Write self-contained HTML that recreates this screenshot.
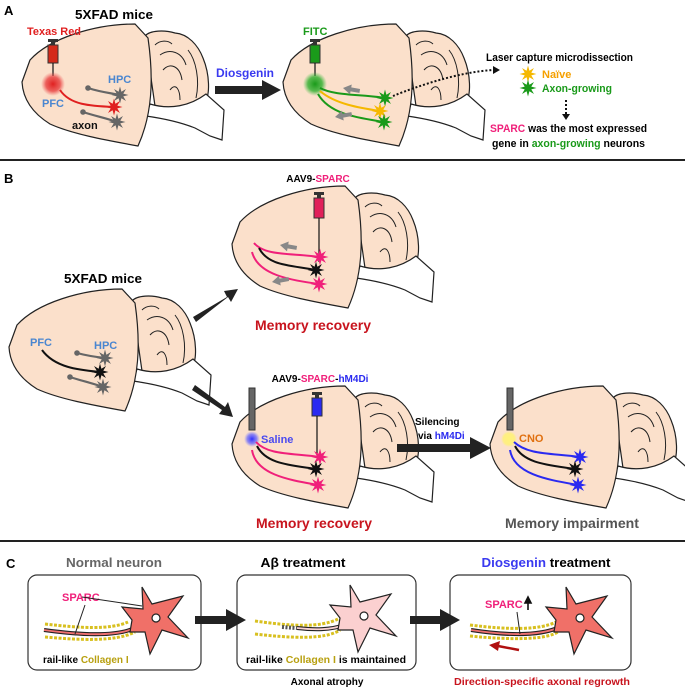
<!DOCTYPE html>
<html><head><meta charset="utf-8"><style>
html,body{margin:0;padding:0;background:#fff}
svg{display:block}
text{font-family:"Liberation Sans",sans-serif;font-weight:bold}
</style></head><body>
<svg width="685" height="688" viewBox="0 0 685 688" xmlns="http://www.w3.org/2000/svg">
<defs>
<g id="brain">
  <path d="M145,36 C150,30 165,30 175,33 C188,34 198,45 203,58 C210,75 210,95 205,102 C195,110 175,112 155,106 Z" fill="#fbe0cb" stroke="#222" stroke-width="1.2"/>
  <path d="M150,104 C170,110 190,106 206,94 L224,110 L222,140 L210,136 L195,128 C180,122 160,118 146,116 Z" fill="#fff" stroke="#222" stroke-width="1.2"/>
  <path d="M160,55 C170,48 182,52 186,65 M163,70 C170,62 180,66 182,80 M188,50 C196,60 200,80 196,98 M155,45 C160,40 168,40 172,44 M170,90 C176,82 180,90 180,100" fill="none" stroke="#222" stroke-width="1"/>
  <path d="M22,82 L30,60 C50,38 95,24 135,24 L148,38 C154,80 152,115 138,146 C105,140 72,134 50,124 C34,114 23,100 22,82 Z" fill="#fbe0cb" stroke="#222" stroke-width="1.2"/>
</g>
<polygon id="star" points="8.5,0 3.3,1.4 6,6 1.4,3.3 0,8.5 -1.4,3.3 -6,6 -3.3,1.4 -8.5,0 -3.3,-1.4 -6,-6 -1.4,-3.3 0,-8.5 1.4,-3.3 6,-6 3.3,-1.4"/>
<g id="garrow"><path d="M0,0 L8,-5 L8,-2 L17,-2 L17,2 L8,2 L8,5 Z" fill="#888"/></g>
<g id="neuron">
  <polygon points="-12,-31 -2,-14 29,-22 14,-1 34,20 8,12 -4,36 -9,14 -24,14 -22,2 -32,-11 -11,-9" stroke="#222" stroke-width="1.2"/>
  <circle cx="2" cy="0" r="4" fill="#fff" stroke="#222" stroke-width="1.2"/>
</g>
<radialGradient id="gr"><stop offset="0" stop-color="#e02020"/><stop offset="0.6" stop-color="#e84040" stop-opacity="0.8"/><stop offset="1" stop-color="#f06060" stop-opacity="0"/></radialGradient>
<radialGradient id="gg"><stop offset="0" stop-color="#1a9a1a"/><stop offset="0.6" stop-color="#30b030" stop-opacity="0.8"/><stop offset="1" stop-color="#50c050" stop-opacity="0"/></radialGradient>
<radialGradient id="gb"><stop offset="0" stop-color="#3030ff"/><stop offset="0.6" stop-color="#6060ff" stop-opacity="0.7"/><stop offset="1" stop-color="#8080ff" stop-opacity="0"/></radialGradient>
<radialGradient id="gy"><stop offset="0" stop-color="#fff27a"/><stop offset="0.7" stop-color="#fff07a" stop-opacity="0.9"/><stop offset="1" stop-color="#fff07a" stop-opacity="0"/></radialGradient>
</defs>

<!-- PANEL A -->
<text x="4" y="15" font-size="13">A</text>
<text x="75" y="19" font-size="13" textLength="78" lengthAdjust="spacingAndGlyphs">5XFAD mice</text>
<use href="#brain"/>
<text x="27" y="35" font-size="11" fill="#e02020" textLength="54" lengthAdjust="spacingAndGlyphs">Texas Red</text>
<rect x="48" y="39" width="10" height="3" fill="#333"/><rect x="51" y="42" width="4" height="3" fill="#333"/>
<rect x="48" y="45" width="10" height="18" fill="#d42a1a" stroke="#333"/>
<line x1="53" y1="63" x2="53" y2="76" stroke="#111" stroke-width="1.2"/>
<circle cx="53" cy="84" r="12" fill="url(#gr)"/>
<text x="42" y="107" font-size="11" fill="#4a86d0" font-weight="normal">PFC</text>
<text x="108" y="83" font-size="11" fill="#4a86d0" font-weight="normal">HPC</text>
<text x="72" y="129" font-size="11" fill="#111" font-weight="normal">axon</text>
<path d="M88,88 C100,92 110,93 120,95" fill="none" stroke="#666" stroke-width="2.2"/><circle cx="88" cy="88" r="2.8" fill="#666"/>
<path d="M83,112 C95,116 106,118 117,122" fill="none" stroke="#666" stroke-width="2.2"/><circle cx="83" cy="112" r="2.8" fill="#666"/>
<path d="M60,90 C70,105 90,106 114,107" fill="none" stroke="#e02020" stroke-width="2"/>
<use href="#star" x="120" y="95" fill="#666"/><use href="#star" x="117" y="122" fill="#666"/><use href="#star" x="114" y="107" fill="#e02020"/>

<text x="216" y="77" font-size="12" fill="#3a3af0" textLength="58" lengthAdjust="spacingAndGlyphs">Diosgenin</text>
<path d="M215,86 L262,86 L262,80 L281,90 L262,100 L262,94 L215,94 Z" fill="#222"/>

<use href="#brain" transform="translate(261,0)"/>
<text x="303" y="35" font-size="11" fill="#1a9a1a">FITC</text>
<rect x="310" y="39" width="10" height="3" fill="#333"/><rect x="313" y="42" width="4" height="3" fill="#333"/>
<rect x="310" y="45" width="10" height="18" fill="#1a9a1a" stroke="#333"/>
<line x1="315" y1="63" x2="315" y2="76" stroke="#111" stroke-width="1.2"/>
<circle cx="315" cy="84" r="12" fill="url(#gg)"/>
<path d="M320,88 C335,96 360,94 385,98" fill="none" stroke="#1a9a1a" stroke-width="2"/>
<path d="M320,91 C335,104 360,108 380,111" fill="none" stroke="#f5b800" stroke-width="2"/>
<path d="M318,94 C330,115 360,118 384,122" fill="none" stroke="#1a9a1a" stroke-width="2"/>
<use href="#garrow" transform="translate(343,88) rotate(10)"/>
<use href="#garrow" transform="translate(335,117) rotate(-10)"/>
<use href="#star" x="385" y="98" fill="#1a9a1a"/><use href="#star" x="380" y="111" fill="#f5b800"/><use href="#star" x="384" y="122" fill="#1a9a1a"/>
<path d="M393,96 C420,85 460,72 493,70" fill="none" stroke="#111" stroke-width="2" stroke-dasharray="2,2"/>
<path d="M493,66 L500,70 L493,74 Z" fill="#111"/>
<text x="486" y="61" font-size="11" textLength="147" lengthAdjust="spacingAndGlyphs">Laser capture microdissection</text>
<use href="#star" x="528" y="74" fill="#f5b800"/><text x="542" y="78" font-size="11" fill="#f5a000">Naïve</text>
<use href="#star" x="528" y="88" fill="#1a9a1a"/><text x="542" y="92" font-size="11" fill="#1a9a1a" textLength="70" lengthAdjust="spacingAndGlyphs">Axon-growing</text>
<line x1="566" y1="100" x2="566" y2="114" stroke="#111" stroke-width="2" stroke-dasharray="2,2"/>
<path d="M562,114 L570,114 L566,120 Z" fill="#111"/>
<text x="490" y="132" font-size="11" textLength="157" lengthAdjust="spacingAndGlyphs"><tspan fill="#f0207a">SPARC</tspan> was the most expressed</text>
<text x="492" y="147" font-size="11" textLength="153" lengthAdjust="spacingAndGlyphs">gene in <tspan fill="#1a9a1a">axon-growing</tspan> neurons</text>
<line x1="0" y1="160" x2="685" y2="160" stroke="#222" stroke-width="2"/>

<!-- PANEL B -->
<text x="4" y="183" font-size="13">B</text>
<text x="318" y="182" font-size="10" text-anchor="middle"><tspan>AAV9-</tspan><tspan fill="#f0207a">SPARC</tspan></text>
<use href="#brain" transform="translate(210,162)"/>
<rect x="314" y="192" width="10" height="3" fill="#333"/><rect x="317" y="195" width="4" height="3" fill="#333"/>
<rect x="314" y="198" width="10" height="20" fill="#e0205a" stroke="#333"/>
<line x1="319" y1="218" x2="319" y2="262" stroke="#111" stroke-width="1.2"/>
<path d="M254,243 C265,256 290,253 320,257" fill="none" stroke="#f0207a" stroke-width="2"/>
<path d="M259,248 C268,266 290,265 316,270" fill="none" stroke="#111" stroke-width="2"/>
<path d="M252,252 C258,275 290,280 319,284" fill="none" stroke="#f0207a" stroke-width="2"/>
<use href="#garrow" transform="translate(280,245) rotate(10)"/>
<use href="#garrow" transform="translate(272,282) rotate(-10)"/>
<use href="#star" x="320" y="257" fill="#f0207a"/><use href="#star" x="316" y="270" fill="#111"/><use href="#star" x="319" y="284" fill="#f0207a"/>
<text x="313" y="330" font-size="14" fill="#c8141e" text-anchor="middle" textLength="116" lengthAdjust="spacingAndGlyphs">Memory recovery</text>

<text x="103" y="283" font-size="13" text-anchor="middle" textLength="78" lengthAdjust="spacingAndGlyphs">5XFAD mice</text>
<use href="#brain" transform="translate(-13,265)"/>
<text x="30" y="346" font-size="11" fill="#4a86d0" font-weight="normal">PFC</text>
<text x="94" y="349" font-size="11" fill="#4a86d0" font-weight="normal">HPC</text>
<path d="M77,353 C88,356 96,357 105,358" fill="none" stroke="#666" stroke-width="2.2"/><circle cx="77" cy="353" r="2.8" fill="#666"/>
<path d="M70,377 C82,381 92,383 103,387" fill="none" stroke="#666" stroke-width="2.2"/><circle cx="70" cy="377" r="2.8" fill="#666"/>
<path d="M42,350 C55,368 80,370 100,372" fill="none" stroke="#111" stroke-width="2"/>
<use href="#star" x="105" y="358" fill="#666"/><use href="#star" x="103" y="387" fill="#666"/><use href="#star" x="100" y="372" fill="#111"/>
<path d="M193,317 L227,297 L224,291 L238,289 L231,302 L228,297 L196,322 Z" fill="#222"/>
<path d="M195,385 L225,407 L228,402 L233,417 L219,414 L222,410 L192,390 Z" fill="#222"/>

<text x="320" y="382" font-size="10" text-anchor="middle">AAV9-<tspan fill="#f0207a">SPARC</tspan>-<tspan fill="#2a2af0">hM4Di</tspan></text>
<use href="#brain" transform="translate(210,362)"/>
<rect x="249" y="388" width="6" height="42" fill="#666" stroke="#333"/>
<circle cx="252" cy="439" r="8" fill="url(#gb)"/>
<text x="261" y="443" font-size="11" fill="#4a4af0" font-weight="normal">Saline</text>
<rect x="312" y="392" width="10" height="3" fill="#333"/><rect x="315" y="395" width="4" height="3" fill="#333"/>
<rect x="312" y="398" width="10" height="18" fill="#2a2af0" stroke="#333"/>
<line x1="317" y1="416" x2="317" y2="455" stroke="#111" stroke-width="1.2"/>
<path d="M256,442 C268,455 290,453 320,457" fill="none" stroke="#f0207a" stroke-width="2"/>
<path d="M257,446 C266,464 290,465 316,469" fill="none" stroke="#111" stroke-width="2"/>
<path d="M252,450 C256,475 290,480 318,485" fill="none" stroke="#f0207a" stroke-width="2"/>
<use href="#star" x="320" y="457" fill="#f0207a"/><use href="#star" x="316" y="469" fill="#111"/><use href="#star" x="318" y="485" fill="#f0207a"/>
<text x="314" y="528" font-size="14" fill="#c8141e" text-anchor="middle" textLength="116" lengthAdjust="spacingAndGlyphs">Memory recovery</text>

<text x="415" y="425" font-size="10">Silencing</text>
<text x="418" y="439" font-size="10">via <tspan fill="#2a2af0">hM4Di</tspan></text>
<path d="M397,444 L470,444 L470,437 L491,448 L470,459 L470,452 L397,452 Z" fill="#222"/>
<use href="#brain" transform="translate(468,362)"/>
<rect x="507" y="388" width="6" height="42" fill="#666" stroke="#333"/>
<circle cx="509" cy="439" r="8" fill="url(#gy)"/>
<text x="519" y="442" font-size="11" fill="#e07010" font-weight="normal">CNO</text>
<path d="M514,442 C528,455 550,453 580,457" fill="none" stroke="#2a2af0" stroke-width="2"/>
<path d="M515,446 C524,464 550,465 575,469" fill="none" stroke="#111" stroke-width="2"/>
<path d="M510,450 C514,475 550,480 578,485" fill="none" stroke="#2a2af0" stroke-width="2"/>
<use href="#star" x="580" y="457" fill="#2a2af0"/><use href="#star" x="575" y="469" fill="#111"/><use href="#star" x="578" y="485" fill="#2a2af0"/>
<text x="572" y="528" font-size="14" fill="#555" text-anchor="middle" textLength="134" lengthAdjust="spacingAndGlyphs">Memory impairment</text>
<line x1="0" y1="541" x2="685" y2="541" stroke="#222" stroke-width="2"/>

<!-- PANEL C -->
<text x="6" y="568" font-size="13">C</text>
<text x="114" y="567" font-size="13" fill="#666" text-anchor="middle" textLength="96" lengthAdjust="spacingAndGlyphs">Normal neuron</text>
<text x="303" y="567" font-size="13" text-anchor="middle" textLength="85" lengthAdjust="spacingAndGlyphs">Aβ treatment</text>
<text x="546" y="567" font-size="13" text-anchor="middle" textLength="129" lengthAdjust="spacingAndGlyphs"><tspan fill="#3a3af0">Diosgenin</tspan> treatment</text>
<rect x="28" y="575" width="173" height="95" rx="9" fill="#fff" stroke="#333" stroke-width="1.2"/>
<rect x="237" y="575" width="179" height="95" rx="9" fill="#fff" stroke="#333" stroke-width="1.2"/>
<rect x="450" y="575" width="181" height="95" rx="9" fill="#fff" stroke="#333" stroke-width="1.2"/>
<path d="M195,616 L226,616 L226,609 L246,620 L226,631 L226,624 L195,624 Z" fill="#222"/>
<path d="M410,616 L440,616 L440,609 L460,620 L440,631 L440,624 L410,624 Z" fill="#222"/>

<!-- box1 -->
<path d="M45,624 C80,628 110,630 128,622" fill="none" stroke="#d8c020" stroke-width="3" stroke-dasharray="3,1.5"/>
<path d="M45,637 C80,640 115,642 135,632" fill="none" stroke="#d8c020" stroke-width="3" stroke-dasharray="3,1.5"/>
<path d="M44,630 C80,635 115,637 135,628" fill="none" stroke="#222" stroke-width="4"/>
<path d="M44,630 C80,635 115,637 135,628" fill="none" stroke="#f07070" stroke-width="1.8"/>
<use href="#neuron" x="154" y="618" fill="#f07068"/>
<text x="62" y="601" font-size="11" fill="#f0207a">SPARC</text>
<line x1="82" y1="597" x2="142" y2="606" stroke="#222"/>
<line x1="85" y1="605" x2="75" y2="634" stroke="#222"/>
<text x="43" y="663" font-size="10"><tspan>rail-like </tspan><tspan fill="#b8a010">Collagen I</tspan></text>

<!-- box2 -->
<path d="M255,621 C290,626 320,628 338,619" fill="none" stroke="#d8c020" stroke-width="3" stroke-dasharray="3,1.5"/>
<path d="M255,634 C290,638 325,640 340,630" fill="none" stroke="#d8c020" stroke-width="3" stroke-dasharray="3,1.5"/>
<path d="M282,627 L297,628" fill="none" stroke="#555" stroke-width="4" stroke-dasharray="2,1.5"/>
<path d="M297,628 C315,630 330,630 345,625" fill="none" stroke="#222" stroke-width="4"/>
<path d="M297,628 C315,630 330,630 345,625" fill="none" stroke="#f8d0d0" stroke-width="1.8"/>
<use href="#neuron" x="362" y="616" fill="#fbd0d0"/>
<text x="246" y="663" font-size="10" textLength="160" lengthAdjust="spacingAndGlyphs">rail-like <tspan fill="#b8a010">Collagen I</tspan> is maintained</text>
<text x="327" y="685" font-size="10" text-anchor="middle">Axonal atrophy</text>

<!-- box3 -->
<path d="M470,625 C510,630 540,630 556,622" fill="none" stroke="#d8c020" stroke-width="3" stroke-dasharray="3,1.5"/>
<path d="M470,636 C510,640 545,640 558,632" fill="none" stroke="#d8c020" stroke-width="3" stroke-dasharray="3,1.5"/>
<path d="M471,630 C510,636 540,636 560,627" fill="none" stroke="#222" stroke-width="4"/>
<path d="M471,630 C510,636 540,636 560,627" fill="none" stroke="#f07070" stroke-width="1.8"/>
<use href="#neuron" x="578" y="618" fill="#f07068"/>
<text x="485" y="608" font-size="11" fill="#f0207a">SPARC</text>
<path d="M528,610 L528,600 M525,603 L528,597 L531,603 Z" stroke="#111" stroke-width="1.6" fill="#111"/>
<line x1="517" y1="612" x2="520" y2="634" stroke="#222"/>
<path d="M519,650 L498,646" stroke="#b01010" stroke-width="2.5"/>
<path d="M489,645 L500,641 L498,651 Z" fill="#b01010"/>
<text x="542" y="685" font-size="10" fill="#c8141e" text-anchor="middle" textLength="176" lengthAdjust="spacingAndGlyphs">Direction-specific axonal regrowth</text>
</svg>
</body></html>
